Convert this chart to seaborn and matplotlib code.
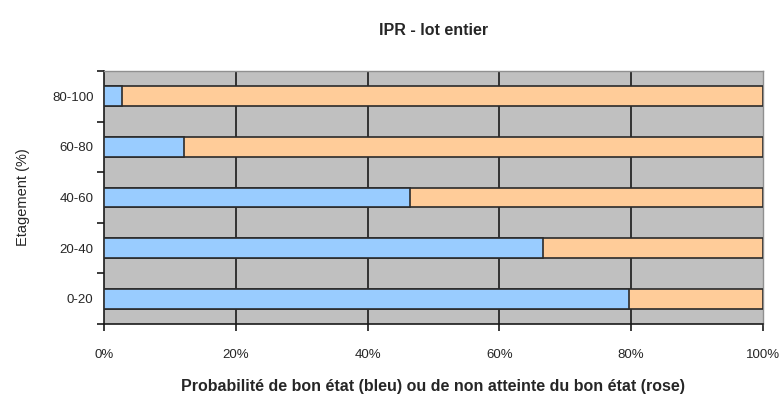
import numpy as np
import pandas as pd
import seaborn as sns
import matplotlib.pyplot as plt
from matplotlib.ticker import FixedLocator

categories = ["80-100", "60-80", "40-60", "20-40", "0-20"]
bon_etat = [2.7, 12.1, 46.4, 66.6, 79.7]
total = [100, 100, 100, 100, 100]
x_ticks = [0, 20, 40, 60, 80, 100]
x_labels = ["0%", "20%", "40%", "60%", "80%", "100%"]

df = pd.DataFrame({"Etagement": categories, "bon": bon_etat, "total": total})

sns.set_style("white")
plt.rcParams['font.family'] = ['Liberation Sans', 'DejaVu Sans']

fig = plt.figure(figsize=(7.84, 4.01), dpi=100)
ax = fig.add_axes([0.1327, 0.192, 0.8403, 0.631])
ax.set_facecolor("#C0C0C0")

# rose = whole bar, blue drawn over it
sns.barplot(data=df, x="total", y="Etagement", color="#FFCC99", saturation=1,
            width=0.39, edgecolor="#2b2b2b", linewidth=1.2, ax=ax, zorder=3)
sns.barplot(data=df, x="bon", y="Etagement", color="#99CCFF", saturation=1,
            width=0.39, edgecolor="#2b2b2b", linewidth=1.2, ax=ax, zorder=4)

ax.set_xlim(0, 100)
ax.set_ylim(4.5, -0.5)
ax.set_xticks(x_ticks)
ax.set_xticklabels(x_labels, fontsize=9.5)
ax.tick_params(axis="y", which="major", left=False, labelsize=9.5, pad=4)
ax.tick_params(axis="x", bottom=True, length=5, width=1.2, color="#1a1a1a",
               direction="out", pad=13)
ax.yaxis.set_minor_locator(FixedLocator(np.arange(-0.5, 5, 1)))
ax.tick_params(axis="y", which="minor", left=True, length=5, width=1.2,
               color="#1a1a1a", direction="out")

for xv in x_ticks[1:-1]:
    ax.axvline(xv, color="#1a1a1a", linewidth=1.2, zorder=1)

for side in ["left", "bottom"]:
    ax.spines[side].set_color("#1a1a1a")
    ax.spines[side].set_linewidth(1.2)
for side in ["top", "right"]:
    ax.spines[side].set_color("#909090")
    ax.spines[side].set_linewidth(1.0)

ax.set_ylabel("Etagement (%)", fontsize=10.5, labelpad=16)
ax.set_xlabel("Probabilité de bon état (bleu) ou de non atteinte du bon état (rose)",
              fontsize=11.5, fontweight="bold", labelpad=13)
ax.set_title("IPR - lot entier", fontsize=11.5, fontweight="bold", pad=26)

fig.savefig("out.png", dpi=100)
